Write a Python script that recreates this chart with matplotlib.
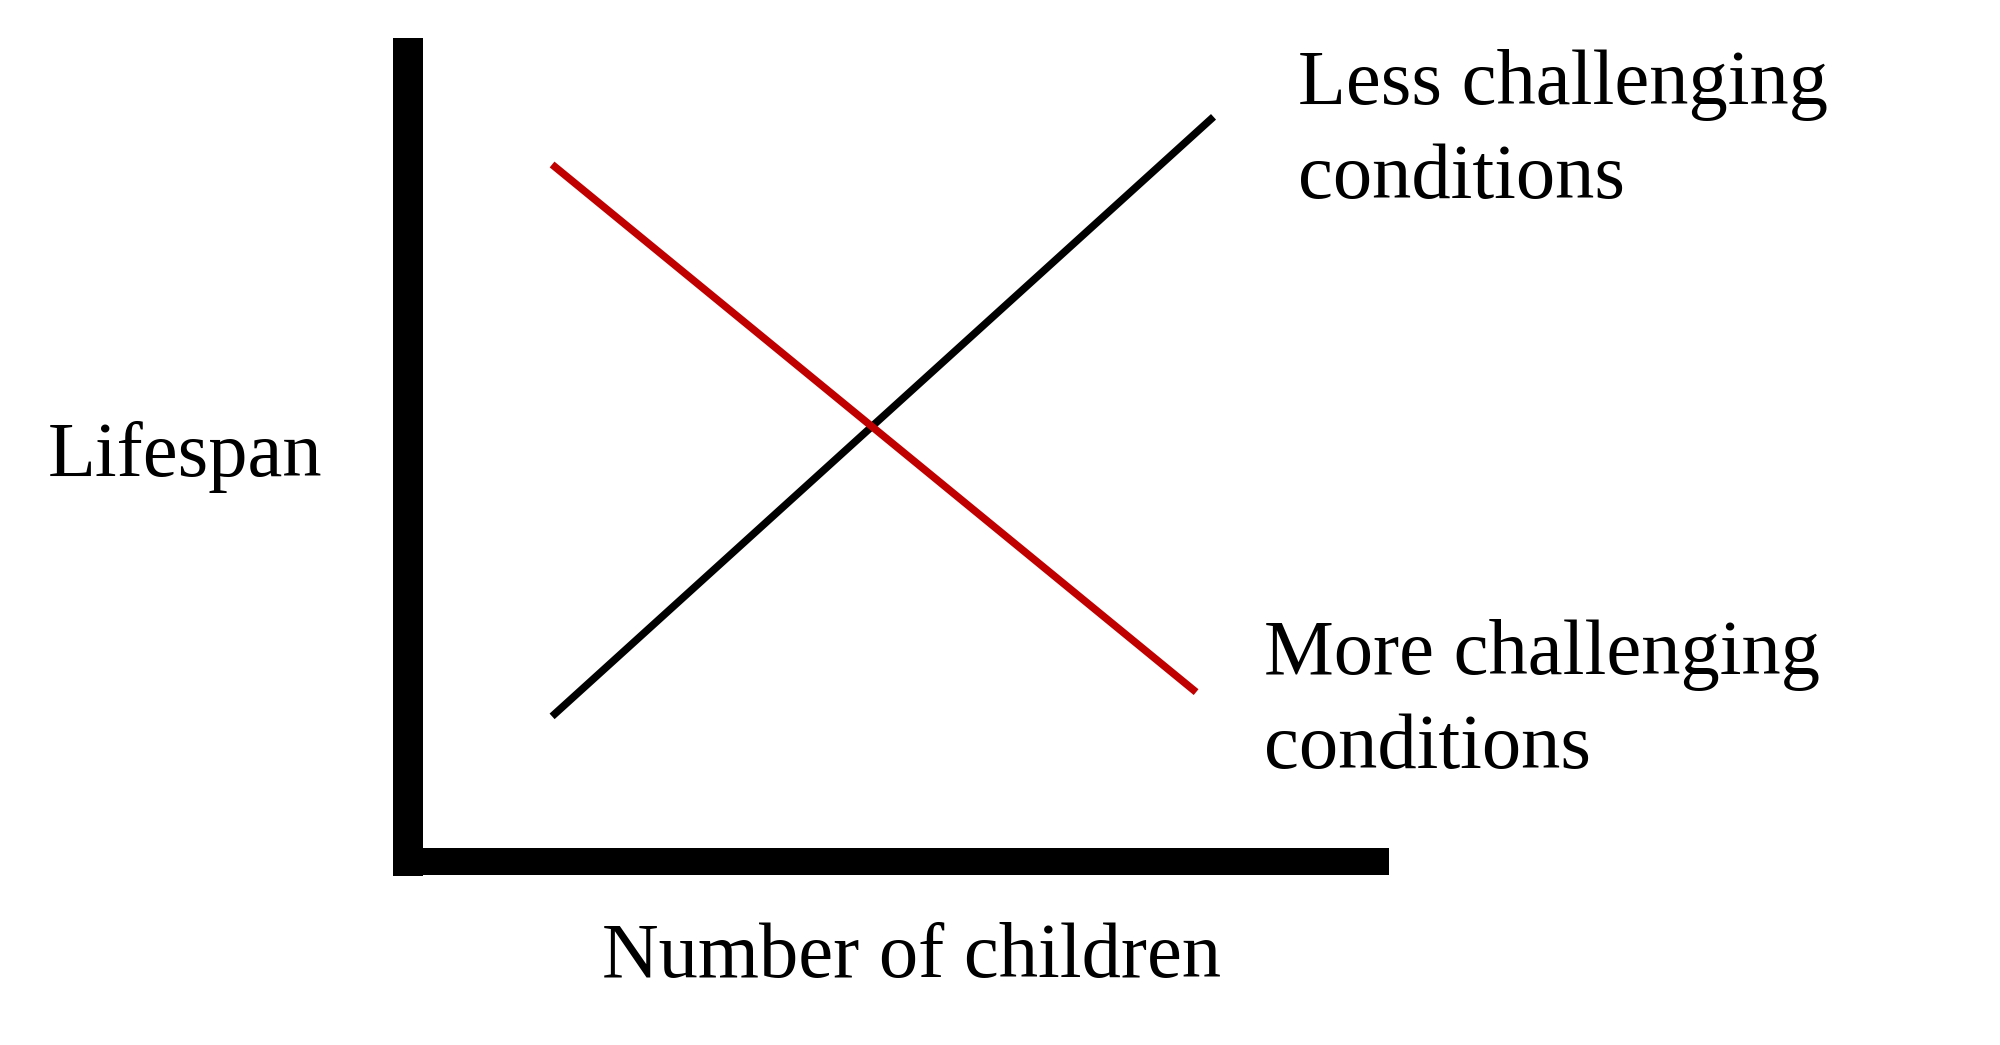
import matplotlib
matplotlib.use("Agg")
import matplotlib.pyplot as plt

# Conceptual chart: values in arbitrary units (axes run 0..10)
x_limits = [0, 10]
y_limits = [0, 10]

less_x = [1.49, 8.33]
less_y = [1.79, 9.21]
more_x = [1.49, 8.15]
more_y = [8.62, 2.09]

less_label = "Less challenging\nconditions"
more_label = "More challenging\nconditions"
x_title = "Number of children"
y_title = "Lifespan"

W, H = 2000, 1045
fig = plt.figure(figsize=(W / 100, H / 100), dpi=100)
fig.patch.set_facecolor("white")

# axes box in pixels (from top-left)
ax_l, ax_r, ax_t, ax_b = 408, 1375, 53, 861
ax = fig.add_axes([ax_l / W, 1 - ax_b / H, (ax_r - ax_l) / W, (ax_b - ax_t) / H])
ax.set_xlim(*x_limits)
ax.set_ylim(*y_limits)
ax.set_xticks([])
ax.set_yticks([])
for side in ["top", "right"]:
    ax.spines[side].set_visible(False)
ax.spines["left"].set_linewidth(30 * 72 / 100)
ax.spines["bottom"].set_linewidth(27 * 72 / 100)
for side in ["left", "bottom"]:
    ax.spines[side].set_color("black")
    ax.spines[side].set_capstyle("projecting")

lw = 7.5 * 72 / 100
ax.plot(less_x, less_y, color="black", lw=lw, solid_capstyle="butt")
ax.plot(more_x, more_y, color="#C00000", lw=lw, solid_capstyle="butt")

font = dict(family=["Liberation Serif", "DejaVu Serif"], size=56.5, color="black")

def fx(px):
    return px / W

def fy(py):
    return 1 - py / H

fig.text(fx(48), fy(476), y_title, ha="left", va="baseline", **font)
fig.text(fx(602), fy(977), x_title, ha="left", va="baseline", **font)
fig.text(fx(1298), fy(49), less_label, ha="left", va="top", linespacing=1.41, **font)
fig.text(fx(1264), fy(619), more_label, ha="left", va="top", linespacing=1.41, **font)

fig.savefig("out.png", dpi=100, facecolor="white")
